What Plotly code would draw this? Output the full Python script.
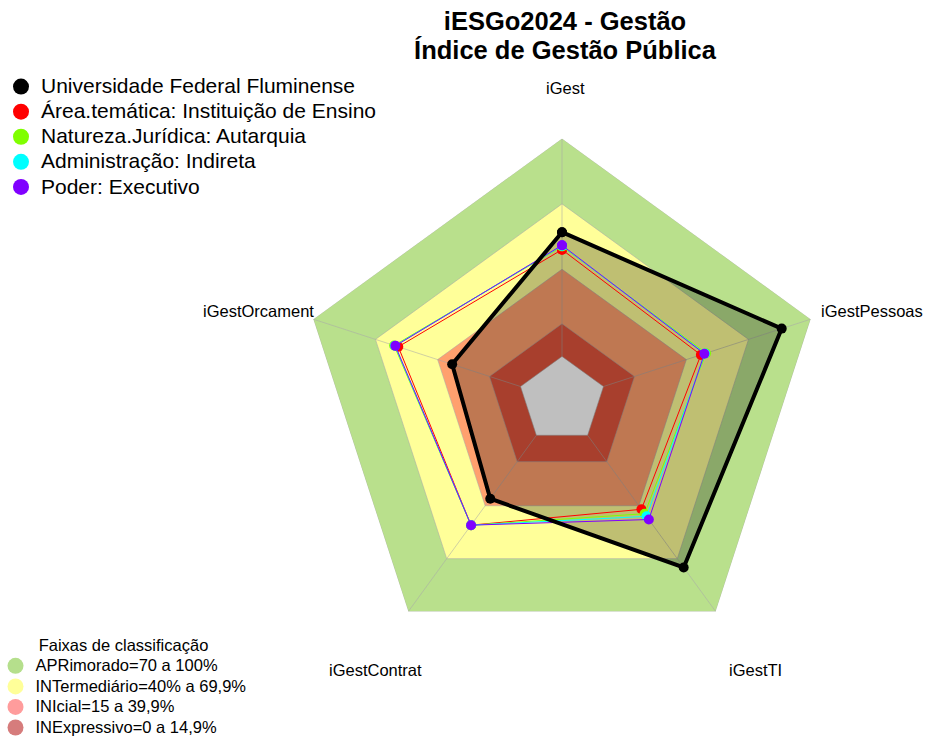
import plotly.graph_objects as go

categories = ["iGest", "iGestPessoas", "iGestTI", "iGestContrat", "iGestOrcament"]

series_names = [
    "Universidade Federal Fluminense",
    "Área.temática: Instituição de Ensino",
    "Natureza.Jurídica: Autarquia",
    "Administração: Indireta",
    "Poder: Executivo",
]
uff = [57, 86, 75, 36, 33]
area_tematica = [49, 47, 42, 51, 59]
natureza = [50.5, 49.5, 44.5, 51, 61]
administracao = [50.8, 49, 46, 51, 60.6]
poder = [51, 48.7, 47.8, 51, 60.4]
series_values = [uff, area_tematica, natureza, administracao, poder]
series_colors = ["#000000", "#ff0000", "#80ff00", "#00ffff", "#8000ff"]

band_names = ["APRimorado=70 a 100%", "INTermediário=40% a 69,9%",
              "INIcial=15 a 39,9%", "INExpressivo=0 a 14,9%"]
band_upper = [100, 70, 40, 15]
band_floor = 0
band_colors = ["#b9e08c", "#ffff99", "#ffa06e", "#e0553c"]
band_legend_colors = ["#b5df8c", "#ffff99", "#ff9c9c", "#d67c7c"]

radial_min = -20

title_lines = ["iESGo2024 - Gestão", "Índice de Gestão Pública"]

# styling: pixel centres of the axis labels
label_px = [(565, 88), (872, 311), (755, 670), (375, 670), (258, 311)]

theta_closed = categories + [categories[0]]


def closed(vals):
    return list(vals) + [vals[0]]


fig = go.Figure()

# classification bands (filled pentagons, largest first)
for up, col in zip(band_upper, band_colors):
    fig.add_trace(go.Scatterpolar(
        r=[up] * (len(categories) + 1), theta=theta_closed, mode="lines",
        fill="toself", fillcolor=col, line=dict(width=0, color=col),
        showlegend=False, hoverinfo="skip"))
fig.add_trace(go.Scatterpolar(
    r=[band_floor] * (len(categories) + 1), theta=theta_closed, mode="lines",
    fill="toself", fillcolor="white", line=dict(width=0, color="white"),
    showlegend=False, hoverinfo="skip"))

# grid lines on top of bands
for up in band_upper + [band_floor]:
    fig.add_trace(go.Scatterpolar(
        r=[up] * (len(categories) + 1), theta=theta_closed, mode="lines",
        line=dict(width=1, color="rgba(170,170,170,0.55)"),
        showlegend=False, hoverinfo="skip"))
for c in categories:
    fig.add_trace(go.Scatterpolar(
        r=[band_floor, max(band_upper)], theta=[c, c], mode="lines",
        line=dict(width=1, color="rgba(170,170,170,0.55)"),
        showlegend=False, hoverinfo="skip"))

# UFF fill
fig.add_trace(go.Scatterpolar(
    r=closed(uff), theta=theta_closed, mode="lines", fill="toself",
    fillcolor="rgba(0,0,0,0.25)", line=dict(width=0, color="rgba(0,0,0,0)"),
    showlegend=False, hoverinfo="skip"))

# comparison series
for name, vals, col in list(zip(series_names, series_values, series_colors))[1:]:
    fig.add_trace(go.Scatterpolar(
        r=closed(vals), theta=theta_closed, mode="lines+markers", name=name,
        line=dict(width=1, color=col), marker=dict(size=10, color=col),
        showlegend=False))

# UFF line on top
fig.add_trace(go.Scatterpolar(
    r=closed(uff), theta=theta_closed, mode="lines+markers", name=series_names[0],
    line=dict(width=4, color="#000000"), marker=dict(size=10, color="#000000"),
    showlegend=False))

# legend entries
for name, col in zip(series_names, series_colors):
    fig.add_trace(go.Scatterpolar(
        r=[None], theta=[None], mode="markers",
        name='<span style="font-size:21px">' + name + '</span>',
        marker=dict(size=16, color=col), legend="legend"))
for name, col in zip(band_names, band_legend_colors):
    fig.add_trace(go.Scatterpolar(
        r=[None], theta=[None], mode="markers",
        name='<span style="font-size:16.5px">' + name + '</span>',
        marker=dict(size=16, color=col), legend="legend2"))

W, H = 925, 737
cx, cy, R = 562, 400, 261.5

annotations = [
    dict(text=cat, x=px / W, y=1 - py / H, xref="paper", yref="paper",
         xanchor="center", yanchor="middle", showarrow=False,
         font=dict(size=16.5, color="#000000"))
    for cat, (px, py) in zip(categories, label_px)
]

title_text = "<br>".join('<span style="font-size:25.5px"><b>' + t + "</b></span>"
                         for t in title_lines)

fig.update_layout(
    width=W, height=H,
    margin=dict(l=0, r=0, t=0, b=0, autoexpand=False),
    paper_bgcolor="white",
    font=dict(family="Liberation Sans, Arial, sans-serif", color="#000000"),
    title=dict(text=title_text,
               x=565 / W, xanchor="center", y=1 - 30 / H, yanchor="top",
               font=dict(size=22.3, color="#000000")),
    polar=dict(
        domain=dict(x=[(cx - R) / W, (cx + R) / W], y=[1 - (cy + R) / H, 1 - (cy - R) / H]),
        bgcolor="rgba(0,0,0,0)",
        gridshape="linear",
        radialaxis=dict(range=[radial_min, 100], visible=False, showgrid=False),
        angularaxis=dict(direction="clockwise", rotation=90, showgrid=False,
                         showline=False, showticklabels=False, ticks=""),
    ),
    annotations=annotations,
    legend=dict(x=1 / W, y=1 - 69 / H, xanchor="left", yanchor="top",
                font=dict(size=17), bgcolor="rgba(0,0,0,0)", tracegroupgap=0),
    legend2=dict(x=-4.5 / W, y=-6 / H, xanchor="left", yanchor="bottom",
                 font=dict(size=13.5), bgcolor="rgba(0,0,0,0)",
                 title=dict(text='<span style="font-size:16.5px">Faixas de classificação</span>',
                            side="top center", font=dict(size=13.5))),
)

fig.write_html("out.html",
               config={"displayModeBar": False},
               post_script="document.body.style.margin='0';document.body.style.overflow='hidden';")
